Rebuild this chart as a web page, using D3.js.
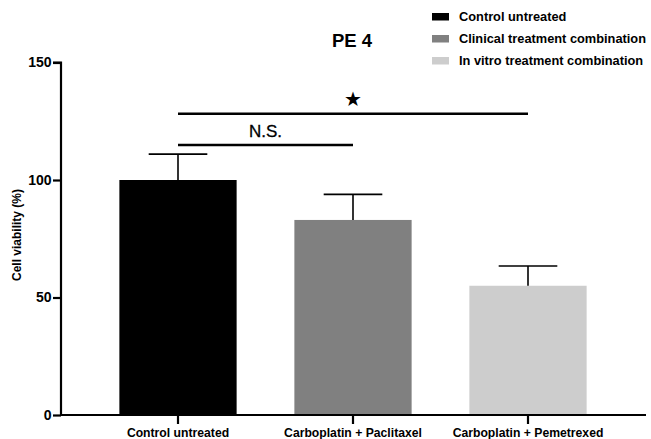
<!DOCTYPE html>
<html><head><meta charset="utf-8">
<script src="https://cdn.jsdelivr.net/npm/d3@7"></script>
<style>body{margin:0;background:#fff}svg{display:block}text{font-family:"Liberation Sans",Arial,sans-serif}</style>
</head><body>
<div id="chart"></div>
<script>
const categories = ["Control untreated", "Carboplatin + Paclitaxel", "Carboplatin + Pemetrexed"];
const values = [100, 83, 55];
const errors = [11, 10.9, 8.4];
const colors = ["#000000", "#808080", "#cdcdcd"];
const legendLabels = ["Control untreated", "Clinical treatment combination", "In vitro treatment combination"];
const yTicks = [0, 50, 100, 150];
const comparisons = [
  {from: 0, to: 1, level: 145, label: "N.S."},
  {from: 0, to: 2, level: 113.7, label: "★"}
];

const W = 651, H = 439;
const svg = d3.select("#chart").append("svg").attr("width", W).attr("height", H);

const y = d3.scaleLinear().domain([0, 150]).range([415, 62.5]);
const x = d3.scaleBand().domain(categories).range([90.5, 615.5]).paddingInner(0.33).paddingOuter(0.165);

// bars
svg.selectAll("rect.bar").data(categories).enter().append("rect")
  .attr("x", d => x(d)).attr("width", x.bandwidth())
  .attr("y", (d, i) => y(values[i])).attr("height", (d, i) => y(0) - y(values[i]))
  .attr("fill", (d, i) => colors[i]);

// error bars
const cap = x.bandwidth() / 4;
categories.forEach((c, i) => {
  const cx = x(c) + x.bandwidth() / 2;
  svg.append("line").attr("x1", cx).attr("x2", cx).attr("y1", y(values[i])).attr("y2", y(values[i] + errors[i]))
    .attr("stroke", "#000").attr("stroke-width", 1.6);
  svg.append("line").attr("x1", cx - cap).attr("x2", cx + cap).attr("y1", y(values[i] + errors[i])).attr("y2", y(values[i] + errors[i]))
    .attr("stroke", "#000").attr("stroke-width", 1.6);
});

// y axis
const yAxis = svg.append("g").attr("transform", "translate(61,0)")
  .call(d3.axisLeft(y).tickValues(yTicks).tickSize(8).tickPadding(1.5));
yAxis.select(".domain").attr("stroke-width", 2.2).attr("d", `M-8,${y(150)}H0V${y(0)}`);
yAxis.selectAll(".tick line").attr("stroke-width", 2.2);
yAxis.selectAll(".tick text").attr("font-size", 14).attr("font-weight", "bold").attr("fill", "#000")
  .attr("font-family", "Liberation Sans, Arial, sans-serif");

// x axis
const xAxis = svg.append("g").attr("transform", `translate(0,${y(0)})`)
  .call(d3.axisBottom(x).tickSize(9).tickPadding(4));
xAxis.select(".domain").attr("stroke-width", 2.2).attr("d", "M60,0H646");
xAxis.selectAll(".tick line").attr("stroke-width", 2.2);
xAxis.selectAll(".tick text").attr("font-size", 12.2).attr("font-weight", "bold").attr("fill", "#000")
  .attr("font-family", "Liberation Sans, Arial, sans-serif");

// y label
svg.append("text").attr("transform", "translate(21,235) rotate(-90)")
  .attr("text-anchor", "middle").attr("font-size", 12).attr("font-weight", "bold").text("Cell viability (%)");

// title
svg.append("text").attr("x", 352).attr("y", 46.7).attr("text-anchor", "middle")
  .attr("font-size", 18.5).attr("font-weight", "bold").text("PE 4");

// significance
comparisons.forEach(c => {
  const x1 = x(categories[c.from]) + x.bandwidth() / 2;
  const x2 = x(categories[c.to]) + x.bandwidth() / 2;
  svg.append("line").attr("x1", x1).attr("x2", x2).attr("y1", c.level).attr("y2", c.level)
    .attr("stroke", "#000").attr("stroke-width", 2.6);
  const t = svg.append("text").attr("x", (x1 + x2) / 2).attr("text-anchor", "middle").text(c.label);
  if (c.label === "★") {
    t.attr("y", c.level - 8).attr("font-size", 20).attr("font-family", "DejaVu Sans");
  } else {
    t.attr("y", c.level - 7.7).attr("font-size", 17).attr("stroke", "#000").attr("stroke-width", 0.3);
  }
});

// legend
const leg = svg.append("g");
legendLabels.forEach((l, i) => {
  const ly = 17 + i * 22;
  leg.append("rect").attr("x", 432).attr("y", ly - 4).attr("width", 17).attr("height", 7.5).attr("fill", colors[i]);
  leg.append("text").attr("x", 459).attr("y", ly + 4).attr("font-size", 12.8).attr("font-weight", "bold").text(l);
});
</script>
</body></html>
